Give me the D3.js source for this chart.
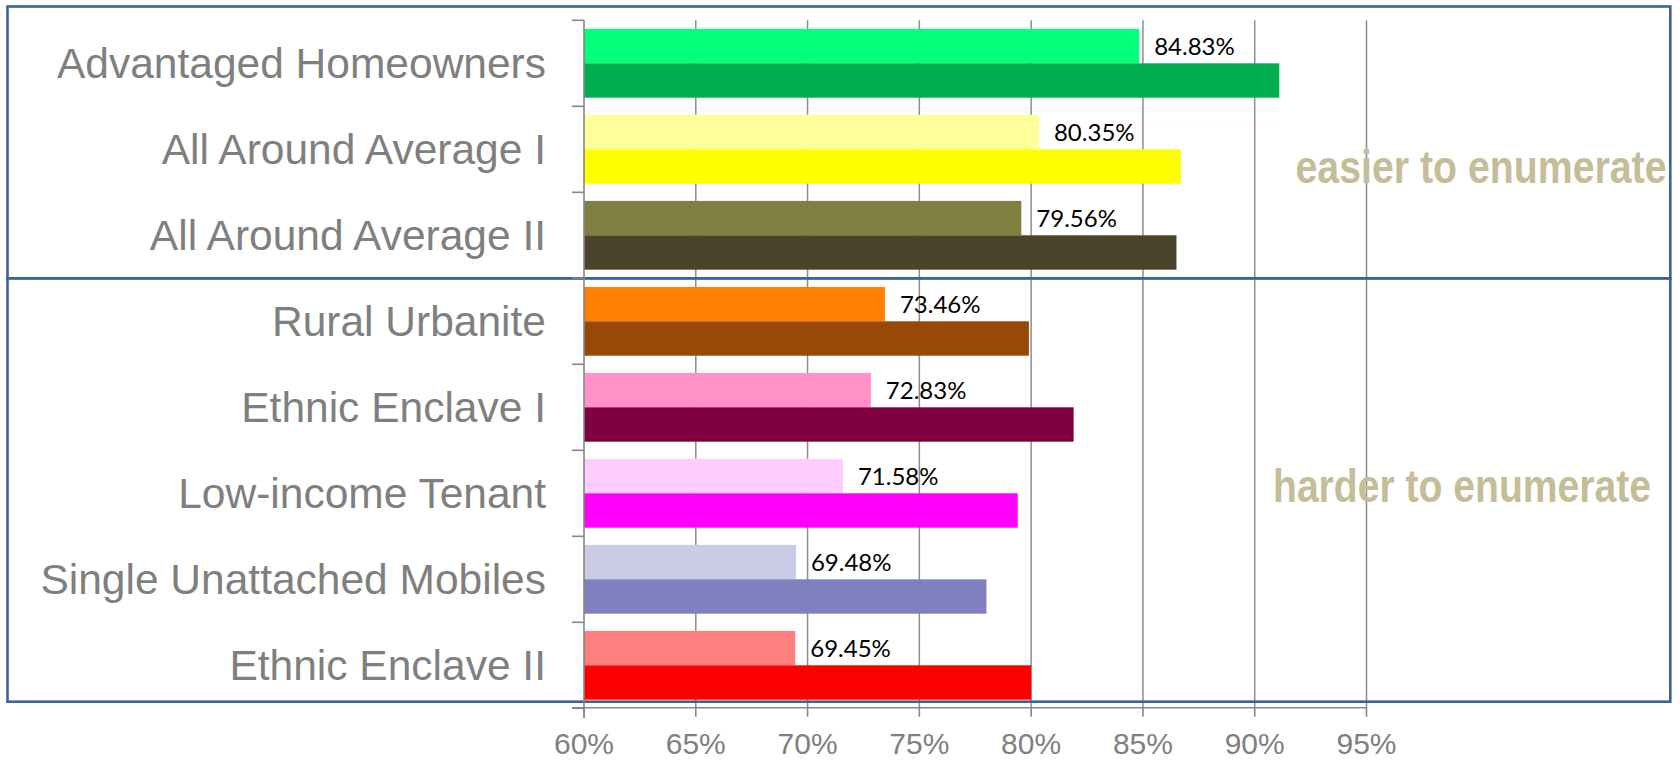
<!DOCTYPE html>
<html><head><meta charset="utf-8">
<script src="https://cdn.jsdelivr.net/npm/d3@7"></script>
<style>html,body{margin:0;padding:0;background:#fff;} svg{display:block}</style>
</head><body><svg id="c" width="1680" height="761"></svg>
<script>
const categories = ["Advantaged Homeowners","All Around Average I","All Around Average II","Rural Urbanite","Ethnic Enclave I","Low-income Tenant","Single Unattached Mobiles","Ethnic Enclave II"];
const lightValues = [84.83, 80.35, 79.56, 73.46, 72.83, 71.58, 69.48, 69.45];
const darkValues = [91.1, 86.7, 86.5, 79.9, 81.9, 79.4, 78.0, 80.0];
const lightColors = ["#04FF7A","#FFFF99","#7F7F3F","#FF8000","#FF91C8","#FFCCFF","#CBCBE6","#FF7F7F"];
const darkColors = ["#00AF50","#FFFF00","#4A442A","#984807","#800040","#FF00FF","#8080C0","#FF0000"];
const xTicks = [60,65,70,75,80,85,90,95];
const groupLabels = ["easier to enumerate","harder to enumerate"];

const svg = d3.select("#c");
const x = d3.scaleLinear().domain([60,95]).range([584,1366.5]);
const y = d3.scaleBand().domain(categories).range([20.3,708.3]).paddingInner(0.2).paddingOuter(0.1);
const step = y.step();
const top0 = 20.3;
const bw = y.bandwidth()/2;

// gridlines
svg.append("g").selectAll("line").data(xTicks.slice(1)).join("line")
  .attr("x1", d=>x(d)).attr("x2", d=>x(d))
  .attr("y1", top0).attr("y2", top0+step*categories.length)
  .attr("stroke","#8C8C8C").attr("stroke-width",1.5);

// bars
const g = svg.append("g");
g.selectAll("rect.l").data(categories).join("rect").attr("class","l")
  .attr("x", x(60)).attr("y", d=>y(d))
  .attr("width", (d,i)=>x(lightValues[i])-x(60)).attr("height", bw)
  .attr("fill",(d,i)=>lightColors[i]);
g.selectAll("rect.d").data(categories).join("rect").attr("class","d")
  .attr("x", x(60)).attr("y", d=>y(d)+bw)
  .attr("width", (d,i)=>x(darkValues[i])-x(60)).attr("height", bw)
  .attr("fill",(d,i)=>darkColors[i]);

// data labels
g.selectAll("text.v").data(categories).join("text").attr("class","v")
  .attr("x",(d,i)=>x(lightValues[i])+15)
  .attr("y", d=>y(d)+bw/2+9)
  .attr("font-family","Lato, 'Open Sans', sans-serif")
  .attr("font-size",24).attr("fill","#000")
  .text((d,i)=>lightValues[i].toFixed(2)+"%");

// frames
const frameTop = [6.5, 278.3];
const frameBot = [278.3, 701.7];
svg.append("g").selectAll("rect").data(groupLabels).join("rect")
  .attr("x",7.5).attr("y",(d,i)=>frameTop[i])
  .attr("width",1670.3-7.5).attr("height",(d,i)=>frameBot[i]-frameTop[i])
  .attr("fill","none").attr("stroke","#3D6392").attr("stroke-width",2.6);

// y axis
const yAxis = svg.append("g");
yAxis.append("line").attr("x1",x(60)).attr("x2",x(60)).attr("y1",top0).attr("y2",top0+step*categories.length+10)
  .attr("stroke","#868686").attr("stroke-width",1.6);
yAxis.selectAll("line.t").data(d3.range(categories.length+1)).join("line").attr("class","t")
  .attr("x1",x(60)-12).attr("x2",x(60))
  .attr("y1",i=>top0+i*step).attr("y2",i=>top0+i*step)
  .attr("stroke","#868686").attr("stroke-width",1.6);
yAxis.selectAll("text").data(categories).join("text")
  .attr("x",546).attr("y",d=>y(d)+y.bandwidth()/2+15)
  .attr("text-anchor","end")
  .attr("font-family","'Liberation Sans', Arial, sans-serif")
  .attr("font-size",42.5).attr("fill","#7F7F7F")
  .text(d=>d);

// x axis
const axisY = 707.7;
const xAxis = svg.append("g");
xAxis.append("line").attr("x1",x(60)-12).attr("x2",x(95)).attr("y1",axisY).attr("y2",axisY)
  .attr("stroke","#868686").attr("stroke-width",1.6);
xAxis.selectAll("line.t").data(xTicks).join("line").attr("class","t")
  .attr("x1",d=>x(d)).attr("x2",d=>x(d)).attr("y1",axisY).attr("y2",axisY+9)
  .attr("stroke","#868686").attr("stroke-width",1.6);
xAxis.selectAll("text").data(xTicks).join("text")
  .attr("x",d=>x(d)).attr("y",754)
  .attr("text-anchor","middle")
  .attr("font-family","'Liberation Sans', Arial, sans-serif")
  .attr("font-size",30).attr("fill","#808080")
  .text(d=>d+"%");

// group annotations (condensed bold: normal width font, stretched vertically)
const annX = [1295.5, 1273];
const annY = [182.5, 502];
const annW = [371, 378];
svg.append("g").selectAll("text").data(groupLabels).join("text")
  .attr("transform",(d,i)=>`translate(${annX[i]},${annY[i]}) scale(1,1.2)`)
  .attr("x",0).attr("y",0)
  .attr("font-family","'Liberation Sans', Arial, sans-serif")
  .attr("font-weight","bold").attr("font-size",39)
  .attr("textLength",(d,i)=>annW[i]).attr("lengthAdjust","spacingAndGlyphs")
  .attr("fill","#C4BD97")
  .text(d=>d);
</script>
</body></html>
